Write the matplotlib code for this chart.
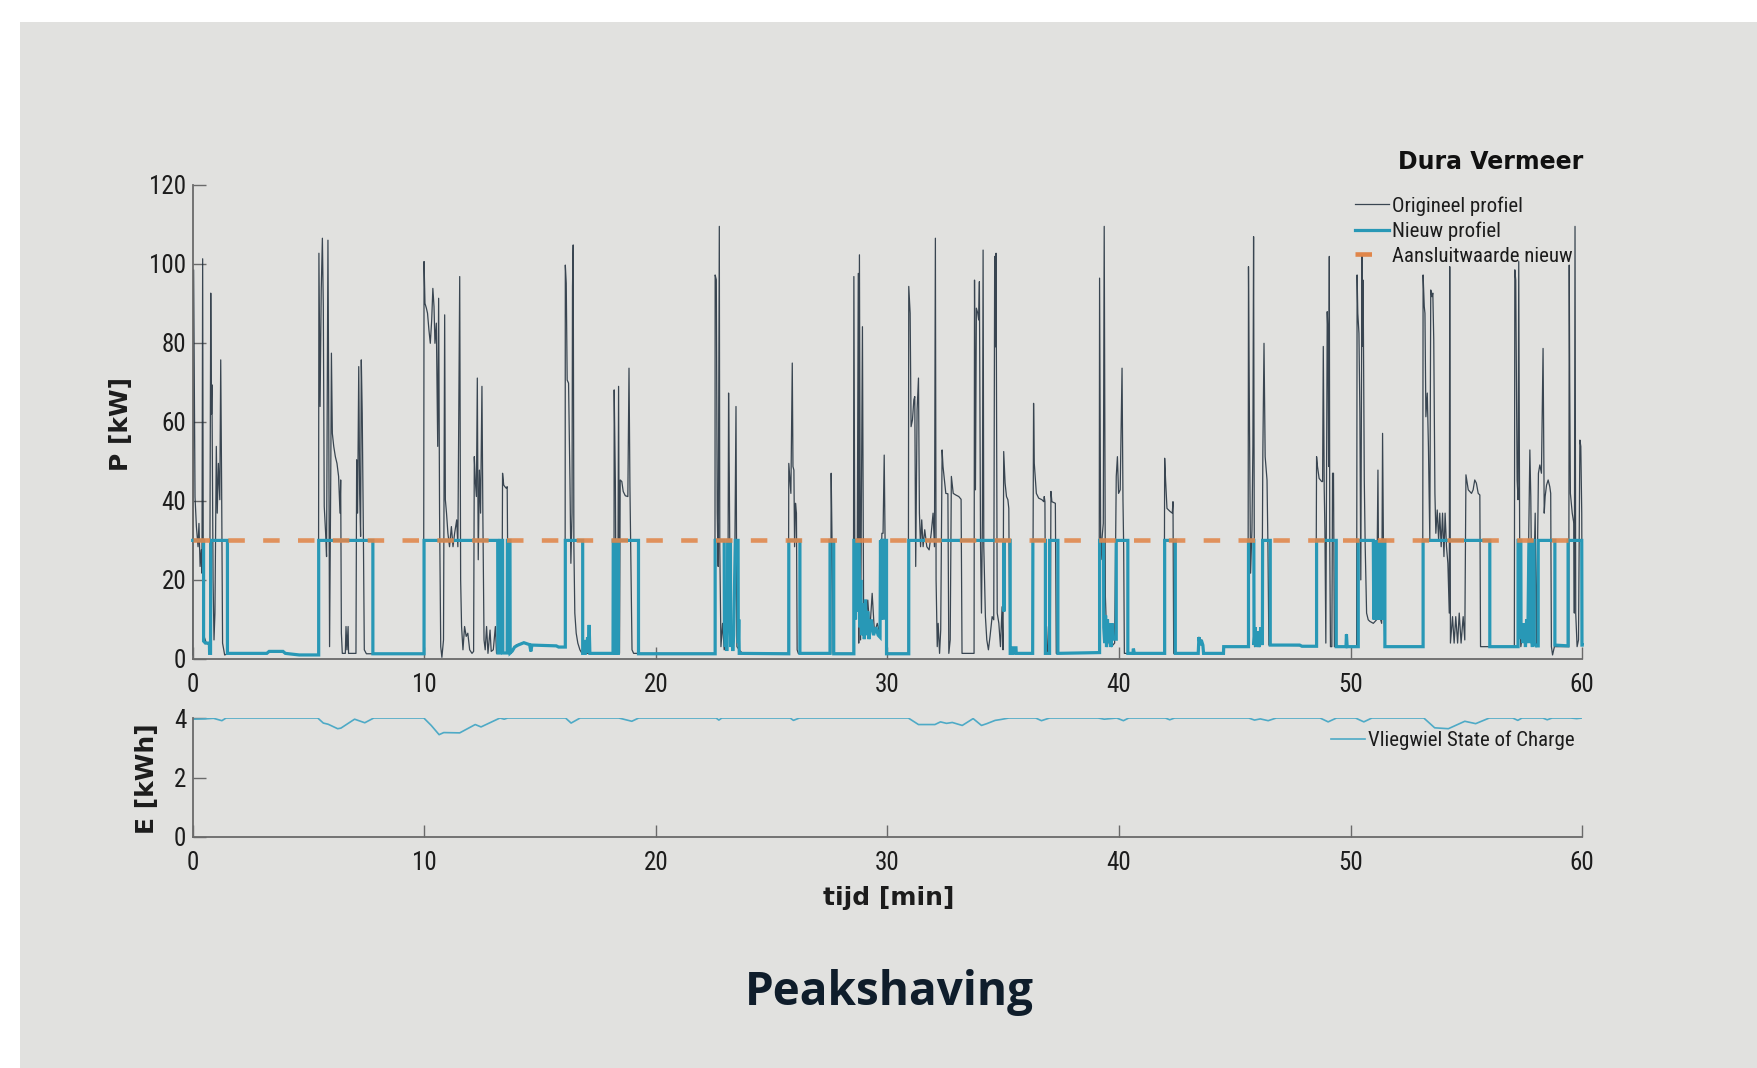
import matplotlib
matplotlib.use("Agg")
import matplotlib.pyplot as plt
from matplotlib.lines import Line2D
from matplotlib.patches import Rectangle

plt.rcParams['font.family'] = ['Liberation Sans Narrow', 'Roboto Condensed', 'DejaVu Sans']
plt.rcParams['font.stretch'] = 'condensed'

# ---------------- data ----------------
orig_t = [0.00,0.03,0.04,0.07,0.10,0.16,0.23,0.27,0.32,0.37,0.40,0.43,0.46,0.49,0.59,0.73,0.78,0.81,0.83,0.88,0.92,0.96,1.02,1.06,1.11,1.17,1.21,1.25,1.29,1.38,1.55,3.20,3.30,3.90,4.00,4.60,5.43,
5.45,5.50,5.55,5.60,5.64,5.68,5.74,5.78,5.84,5.87,5.91,5.96,5.99,6.03,6.09,6.16,6.23,6.30,6.36,6.39,6.42,6.46,6.59,6.62,6.66,6.71,6.73,7.05,7.08,7.12,7.17,7.21,7.25,7.28,7.32,7.37,7.41,7.50,9.97,
9.99,10.03,10.09,10.14,10.20,10.26,10.32,10.37,10.42,10.46,10.52,10.58,10.62,10.66,10.71,10.76,10.83,10.88,10.91,10.96,11.02,11.09,11.17,11.24,11.31,11.40,11.45,11.53,11.57,11.61,11.67,11.74,11.81,11.88,11.96,12.06,12.13,
12.16,12.20,12.25,12.29,12.33,12.38,12.43,12.49,12.53,12.58,12.63,12.69,12.75,12.84,12.89,12.98,13.07,13.12,13.24,13.35,13.38,13.43,13.48,13.54,13.58,13.63,13.75,13.85,13.97,14.30,14.55,14.60,14.65,15.70,15.80,16.08,
16.09,16.13,16.17,16.23,16.29,16.33,16.38,16.40,16.43,16.46,16.50,16.56,16.63,16.72,16.81,18.19,18.20,18.25,18.29,18.35,18.39,18.43,18.46,18.53,18.59,18.68,18.79,18.84,18.88,18.92,18.97,19.04,22.55,
22.56,22.61,22.65,22.69,22.74,22.76,22.81,22.88,22.95,23.04,23.11,23.14,23.17,23.21,23.30,23.38,23.46,23.50,23.60,23.74,25.72,25.74,25.79,25.83,25.89,25.92,25.96,25.99,26.03,26.07,26.10,26.15,27.55,27.57,27.61,27.66,28.53,
28.55,28.59,28.65,28.69,28.74,28.76,28.79,28.84,28.92,28.97,29.05,29.15,29.24,29.34,29.44,29.56,29.67,29.76,29.81,29.86,29.90,29.94,30.90,
30.92,30.98,31.02,31.08,31.14,31.18,31.22,31.28,31.34,31.38,31.43,31.48,31.54,31.61,31.70,31.80,31.89,31.97,32.03,32.07,32.10,32.15,32.19,32.25,32.30,32.36,32.40,32.46,32.52,32.61,32.65,32.71,32.76,32.84,32.95,33.08,33.18,33.22,33.74,
33.76,33.80,33.84,33.90,33.94,33.97,34.02,34.06,34.10,34.13,34.16,34.23,34.29,34.36,34.43,34.52,34.59,34.63,34.66,34.69,34.74,34.81,34.88,34.95,34.99,35.02,35.08,35.14,35.20,35.24,35.28,35.35,36.27,
36.31,36.34,36.39,36.43,36.53,36.67,36.75,36.77,36.80,36.83,36.87,36.92,37.03,37.06,37.10,37.25,37.29,39.14,
39.16,39.21,39.26,39.32,39.36,39.41,39.48,39.55,39.67,39.81,39.88,39.93,39.98,40.05,40.13,40.17,40.20,40.23,41.95,41.97,42.01,42.07,42.21,42.30,42.33,42.36,43.42,43.45,43.50,43.55,43.62,43.65,44.50,44.52,45.57,
45.59,45.63,45.68,45.74,45.78,45.81,45.85,45.95,46.05,46.17,46.21,46.26,46.31,46.39,46.43,46.47,48.50,
48.53,48.57,48.64,48.75,48.79,48.82,48.86,48.89,48.93,48.96,48.99,49.02,49.05,49.08,49.10,49.13,49.19,49.22,49.26,49.30,49.80,49.82,49.85,50.26,
50.28,50.31,50.36,50.40,50.44,50.49,50.51,50.54,50.59,50.63,50.69,50.76,50.83,50.98,51.12,51.18,51.22,51.34,51.38,51.44,51.48,53.11,
53.13,53.18,53.21,53.25,53.31,53.36,53.42,53.46,53.51,53.55,53.59,53.64,53.68,53.74,53.80,53.85,53.91,53.97,54.03,54.08,54.14,54.20,54.26,54.28,54.31,54.40,54.47,54.54,54.62,54.69,54.77,54.86,54.93,54.98,55.08,55.22,55.29,55.36,55.43,55.51,55.58,55.61,57.07,
57.09,57.13,57.19,57.23,57.26,57.31,57.35,57.45,57.54,57.64,57.74,57.78,57.84,57.91,57.97,58.02,58.11,58.17,58.24,58.31,58.36,58.40,58.46,58.53,58.60,58.64,58.67,58.72,58.80,59.42,
59.44,59.46,59.49,59.57,59.64,59.66,59.69,59.72,59.78,59.84,59.90,59.94,59.98,60.00]
orig_p = [1.0,53.8,98.5,70.6,41.0,33.5,28.4,34.3,23.4,27.6,21.7,101.3,11.6,5.7,4.0,3.5,92.6,62.0,69.4,20.0,4.8,11.6,53.8,36.9,49.5,40.3,75.7,42.8,4.0,1.0,1.4,1.4,1.9,1.9,1.4,1.0,1.0,
102.7,63.9,93.4,106.5,89.2,38.6,31.8,25.9,106.0,69.0,3.1,45.3,77.4,57.1,53.8,51.2,49.5,46.2,36.9,45.3,6.5,1.4,1.4,8.2,2.3,8.2,1.4,1.4,50.4,36.9,74.0,41.9,31.0,75.7,62.2,31.8,2.3,1.3,1.3,
100.6,90.0,88.8,87.5,83.3,79.9,85.8,93.8,89.2,79.9,85.0,53.8,91.3,36.9,3.1,0.4,4.8,87.1,40.3,36.9,31.8,28.4,33.5,28.4,31.8,35.2,28.4,96.8,20.0,8.2,2.3,8.2,5.7,6.5,2.3,1.4,1.9,
51.2,45.3,41.1,71.1,25.1,47.8,36.9,69.0,36.0,4.8,2.3,8.2,1.4,7.3,1.9,2.3,8.2,1.4,2.3,1.9,47.0,44.0,43.6,43.2,43.6,1.4,1.4,2.6,3.5,4.1,3.6,1.9,3.5,3.3,3.0,3.0,
99.7,95.1,70.6,69.8,45.3,24.2,36.9,94.3,104.8,28.4,11.6,6.5,4.0,2.3,1.4,1.4,68.1,45.3,1.4,1.4,69.0,1.4,45.3,44.9,42.4,41.3,41.1,73.6,43.6,25.9,2.3,1.4,1.4,
97.2,96.0,36.9,23.4,109.5,28.4,3.1,9.0,2.3,4.0,11.6,67.3,47.0,11.6,2.3,4.8,63.9,3.1,2.3,1.4,1.4,49.5,45.3,41.9,74.9,48.7,47.8,28.4,39.4,36.9,2.3,1.4,1.4,47.0,28.4,1.4,1.4,
96.8,25.9,19.2,16.6,97.6,4.0,102.3,4.8,84.1,11.6,6.5,14.9,7.3,16.6,6.5,9.0,6.5,31.8,31.8,51.6,28.4,1.4,1.4,
94.3,87.5,58.8,60.5,65.6,66.4,23.4,63.0,71.1,36.9,28.4,35.2,28.4,32.7,28.4,27.6,31.8,36.9,28.4,106.5,20.0,3.1,9.0,1.4,7.3,52.9,48.7,45.3,41.9,41.8,1.4,4.8,46.2,41.9,41.5,41.1,40.4,1.4,1.4,
95.9,42.8,88.8,87.5,85.8,95.5,28.4,11.6,35.2,103.5,28.4,10.7,4.8,2.3,5.7,10.7,9.9,101.9,79.0,102.7,11.6,9.0,3.1,13.2,2.3,52.5,44.5,41.1,40.3,38.1,3.1,1.4,1.4,
64.7,49.5,45.3,41.9,40.7,40.3,39.8,41.1,39.8,2.3,8.2,1.4,1.4,42.4,39.8,39.4,1.4,1.6,
96.4,25.1,30.1,34.3,109.5,15.8,3.1,4.8,3.1,4.0,46.2,51.2,41.9,42.8,73.6,40.3,28.4,1.4,1.4,50.8,45.3,38.1,37.3,36.9,39.8,1.4,1.4,5.5,3.5,4.8,3.5,1.4,1.4,3.1,3.1,
99.3,62.2,21.7,32.7,53.8,106.9,3.1,4.0,3.1,8.2,52.1,79.9,51.2,45.3,28.4,3.5,3.3,
51.2,48.7,45.7,44.9,44.9,79.1,43.2,32.7,4.0,48.7,87.9,82.4,48.7,101.9,28.4,3.1,3.1,47.0,47.0,3.1,3.1,6.2,3.1,3.1,
97.2,87.5,82.4,62.2,20.0,102.3,79.1,95.9,45.3,28.4,11.6,9.9,9.5,9.0,9.9,47.8,11.6,9.0,57.1,11.6,3.1,3.1,
97.2,89.2,87.5,61.3,67.3,53.8,30.1,93.4,91.7,92.6,80.8,41.9,31.8,37.7,30.1,36.9,28.4,36.9,25.9,36.9,28.4,24.2,11.6,99.3,4.0,10.7,4.0,10.7,4.0,11.6,4.0,10.7,4.8,46.6,42.8,41.9,42.8,45.3,44.5,41.9,41.5,3.1,3.1,
98.5,95.9,45.3,40.3,100.6,11.6,3.1,7.3,4.8,8.2,52.9,41.1,4.0,20.0,36.9,3.1,47.0,49.1,47.0,78.6,36.9,41.1,44.0,45.3,43.6,41.9,3.1,1.0,3.1,3.1,
99.7,70.6,41.9,36.9,34.3,11.6,109.5,11.6,3.1,4.8,55.4,53.8,36.9,4.8]

new_t = [0.00,0.47,0.47,0.55,0.72,0.73,0.77,0.78,1.50,1.50,3.20,3.30,3.90,4.00,4.60,5.44,5.44,7.78,7.78,9.99,9.99,
13.17,13.18,13.27,13.28,13.38,13.39,13.58,13.59,13.70,13.71,13.80,13.90,14.05,14.30,14.55,14.60,14.65,15.70,15.80,16.09,16.09,16.84,16.84,16.95,16.97,17.00,17.05,17.08,17.12,17.15,
18.15,18.16,18.22,18.23,18.28,18.29,18.33,18.34,18.38,18.39,19.25,19.25,22.56,22.56,22.95,22.96,23.00,23.03,23.06,23.09,23.10,23.22,23.23,23.28,23.32,23.36,23.43,23.55,23.56,23.58,23.60,
25.74,25.74,26.22,26.22,27.52,27.52,27.68,27.68,28.55,28.55,28.60,28.62,28.65,28.70,28.73,28.78,28.80,28.85,28.88,28.95,29.00,29.05,29.10,29.15,29.20,29.30,29.40,29.50,29.60,29.68,29.70,29.72,29.75,29.80,29.82,29.85,29.96,29.96,
30.92,30.92,35.02,35.03,35.05,35.30,35.30,35.42,35.43,35.55,35.56,36.27,36.28,36.82,36.82,37.00,37.00,37.36,37.36,39.16,39.16,39.33,39.34,39.38,39.42,39.46,39.50,39.55,39.60,39.65,39.70,39.75,39.88,39.88,
40.38,40.38,40.60,40.62,40.66,41.97,41.97,42.43,42.43,43.42,43.45,43.50,43.55,43.62,43.65,44.51,44.52,45.59,45.59,45.82,45.83,45.88,45.92,45.98,46.05,46.12,46.19,46.20,46.53,46.53,47.80,47.90,
48.53,48.53,49.38,49.38,49.80,49.82,49.85,50.33,50.33,50.98,51.00,51.03,51.06,51.09,51.12,51.15,51.18,51.21,51.24,51.27,51.30,51.33,51.36,51.39,51.42,51.45,51.48,51.48,
53.13,53.13,56.01,56.01,57.23,57.23,57.35,57.36,57.40,57.45,57.50,57.55,57.60,57.65,57.70,57.75,57.76,57.80,57.85,57.88,57.92,57.93,58.00,58.10,58.10,58.82,58.82,59.39,59.39,59.98,59.99,60.00]
new_p = [30,30,4.5,4.0,4.0,1.4,1.4,30,30,1.4,1.4,1.9,1.9,1.4,1.0,1.0,30,30,1.3,1.3,30,
30,1.5,1.5,30,30,1.5,1.5,30,30,1.5,2.0,3.0,3.5,4.1,3.6,1.9,3.5,3.3,3.0,3.0,30,30,1.4,1.4,4.8,1.5,5.5,1.5,8.6,1.4,
1.4,30,30,1.4,1.4,30,30,1.4,1.4,30,30,1.3,1.3,30,30,8,3,9,2,7,30,30,3,8,2,6,30,30,4,10,1.4,
1.3,30,30,1.4,1.4,30,30,1.3,1.3,30,30,10,30,12,30,30,8,20,6,14,5,15,6,12,5,10,6,8,6,5.5,30,10,30,30,10,30,30,1.3,
1.3,30,30,12,30,30,1.4,1.4,2.8,2.8,1.4,1.4,30,30,1.4,1.4,30,30,1.4,1.6,30,30,8,4,11,3,10,4,9,3,9,5,5,30,
30,1.4,1.4,2.6,1.4,1.4,30,30,1.4,1.4,5.5,3.5,4.8,3.5,1.4,1.4,3.1,3.1,30,30,3.5,8,3,7,3,8,3.5,30,30,3.5,3.5,3.2,
3.2,30,30,3.1,3.1,6.2,3.1,3.1,30,30,10,30,10,30,10,30,10,30,10,30,10,30,10,30,10,30,30,3.1,
3.1,30,30,3.1,3.1,30,30,5,8,4,9,3,10,4,30,30,4,9,3,30,30,4,3.3,3.3,30,30,3.5,3.3,30,30,3.5,3.5]

limit_kw = 30
x_ticks = [0, 10, 20, 30, 40, 50, 60]
p_ticks = [0, 20, 40, 60, 80, 100, 120]
e_ticks = [0, 2, 4]

soc_t = [0,0.5,0.9,1.26,1.44,5.4,5.64,5.85,6.26,6.4,6.99,7.43,7.82,9.98,10.3,10.64,10.84,11.53,12.2,12.45,13.27,13.45,13.6,16.1,16.34,16.73,18.4,18.96,19.26,22.6,22.72,22.85,25.8,25.94,26.2,30.9,
31.34,32.05,32.29,32.55,32.8,33.23,33.70,34.06,34.29,34.65,34.9,35.24,36.4,36.65,37.0,39.1,39.36,39.9,40.19,40.42,42.0,42.19,42.4,45.6,45.85,46.1,46.44,46.79,48.68,49.03,49.39,50.21,50.57,50.92,
53.16,53.63,54.22,54.93,55.4,55.99,57.0,57.22,57.4,58.3,58.49,58.7,59.5,59.76,60.0]
soc_e = [3.96,3.97,3.99,3.91,4.0,4.0,3.83,3.79,3.64,3.66,3.96,3.84,4.0,4.0,3.75,3.44,3.51,3.5,3.78,3.7,4.0,3.96,4.0,4.0,3.83,4.0,4.0,3.89,4.0,4.0,3.93,4.0,4.0,3.92,4.0,4.0,
3.78,3.78,3.87,3.82,3.85,3.75,3.98,3.75,3.81,3.92,3.95,4.0,4.0,3.91,4.0,4.0,3.96,4.0,3.91,4.0,4.0,3.94,4.0,4.0,3.93,3.97,3.91,4.0,4.0,3.87,4.0,4.0,3.87,4.0,
4.0,3.67,3.64,3.89,3.81,4.0,4.0,3.92,4.0,4.0,3.94,4.0,4.0,3.98,4.0]

# ---------------- style ----------------
W, H = 1757, 1068
BG = '#e1e1df'
DARK = '#1b2a38'
BLUE = '#2898b6'
ORANGE = '#e0864a'
SOC = '#4eaac6'
SPINE = '#6a6a6a'
TXT = '#1c1c1c'

fig = plt.figure(figsize=(W / 100, H / 100), dpi=100, facecolor='white')
fig.patches.append(Rectangle((20 / W, 0), 1 - 20 / W, 1 - 22 / H, transform=fig.transFigure,
                             facecolor=BG, edgecolor='none', zorder=-10))

x0, x1 = 192.7, 1582.2
ax = fig.add_axes([x0 / W, 1 - 658.9 / H, (x1 - x0) / W, (658.9 - 184.9) / H])
ax2 = fig.add_axes([x0 / W, 1 - 837 / H, (x1 - x0) / W, (837 - 718) / H])

for a in (ax, ax2):
    a.set_facecolor('none')
    a.spines['top'].set_visible(False)
    a.spines['right'].set_visible(False)
    for s in ('left', 'bottom'):
        a.spines[s].set_color(SPINE)
        a.spines[s].set_linewidth(1.3)
    a.tick_params(direction='in', length=9, width=1.0, color=SPINE, labelsize=18,
                  labelcolor=TXT)
    a.tick_params(axis='x', pad=10)
    a.tick_params(axis='y', pad=4.5)
    a.set_xlim(0, 60)
    a.set_xticks(x_ticks)

ax.set_ylim(0, 120)
ax.set_yticks(p_ticks)
ax2.set_ylim(0, 4)
ax2.set_yticks(e_ticks)

l_orig, = ax.plot(orig_t, orig_p, color=DARK, lw=0.9, alpha=0.85, zorder=2)
l_new, = ax.plot(new_t, new_p, color=BLUE, lw=2.3, zorder=3, solid_joinstyle='miter')
l_lim = ax.axhline(limit_kw, color=ORANGE, lw=3.3, zorder=4, alpha=0.88)
l_lim.set_dashes((3.6, 4.0))
for ln in (l_new, l_orig):
    ln.set_clip_on(False)

l_soc, = ax2.plot(soc_t, soc_e, color=SOC, lw=1.2)

# legends
h_orig = Line2D([], [], color=DARK, lw=0.9, alpha=0.85)
h_new = Line2D([], [], color=BLUE, lw=2.3)
h_lim = Line2D([], [], color=ORANGE, lw=3.3, dashes=(3.6, 4.0))
leg = fig.legend([h_orig, h_new, h_lim], ['Origineel profiel', 'Nieuw profiel', 'Aansluitwaarde nieuw'],
                 loc='upper left', bbox_to_anchor=(1355 / W, 1 - 196 / H), frameon=False,
                 fontsize=15, handlelength=1.65, handletextpad=0.12, labelspacing=0.28,
                 borderpad=0, borderaxespad=0)
for t in leg.get_texts():
    t.set_color(TXT)
leg2 = fig.legend([Line2D([], [], color=SOC, lw=1.2)], ['Vliegwiel State of Charge'],
                  loc='upper left', bbox_to_anchor=(1331 / W, 1 - 731 / H), frameon=False,
                  fontsize=15, handlelength=1.65, handletextpad=0.12, borderpad=0, borderaxespad=0)
for t in leg2.get_texts():
    t.set_color(TXT)

# texts
fig.text(1583 / W, 1 - 162 / H, 'Dura Vermeer', ha='right', va='center', fontsize=17,
         fontweight='bold', family=['DejaVu Sans'], fontstretch='normal', color='#111111')
fig.text(121 / W, 1 - 424 / H, 'P [kW]', rotation=90, ha='center', va='center', fontsize=18,
         fontweight='bold', family=['DejaVu Sans'], fontstretch='normal', color=TXT)
fig.text(147 / W, 1 - 779 / H, 'E [kWh]', rotation=90, ha='center', va='center', fontsize=18,
         fontweight='bold', family=['DejaVu Sans'], fontstretch='normal', color=TXT)
fig.text(889 / W, 1 - 898 / H, 'tijd [min]', ha='center', va='center', fontsize=18,
         fontweight='bold', family=['DejaVu Sans'], fontstretch='normal', color=TXT)
fig.text(889 / W, 1 - 993 / H, 'Peakshaving', ha='center', va='center', fontsize=33,
         fontweight='bold', family=['Open Sans', 'DejaVu Sans'], fontstretch='normal', color='#0f1d2b')

fig.savefig('out.png', dpi=100, facecolor='white')
